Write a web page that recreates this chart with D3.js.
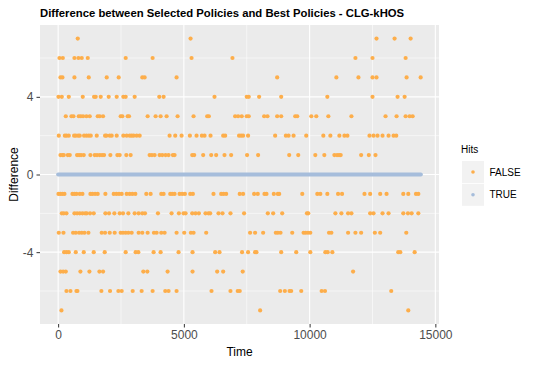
<!DOCTYPE html>
<html>
<head>
<meta charset="utf-8">
<script src="https://d3js.org/d3.v7.min.js"></script>
<style>
  body { margin: 0; background: #fff; }
  text { font-family: "Liberation Sans", Arial, sans-serif; }
</style>
</head>
<body>
<div id="container"></div>
<script>
// Chart size and panel margins
const width = 537;
const height = 366;
const marginTop = 25;
const marginRight = 98;
const marginBottom = 42;
const marginLeft = 40;

/*** DATA: times where Hits == FALSE, one array per Difference level ***/
const diffP7 = [780, 5266, 12660, 13379, 14017];
const diffP6 = [53, 185, 648, 807, 939, 1177, 2686, 3757, 5305, 6932, 11822, 12501, 13818];
const diffP5 = [93, 172, 648, 1217, 1932, 2408, 3347, 3440, 4710, 8710, 11064, 11942, 12501, 12660, 13857, 14416];
const diffP4 = [13, 146, 423, 979, 1429, 1495, 1693, 2011, 2329, 2593, 2686, 3043, 4022, 4194, 6218, 7500, 7580, 7992, 8870, 10705, 12501, 13498, 13778];
const diffP3 = [304, 529, 609, 820, 900, 992, 1125, 1257, 1574, 1654, 1786, 2487, 2553, 2765, 2818, 3559, 3876, 4075, 4313, 4750, 5385, 5927, 5993, 7038, 7157, 7301, 7500, 7580, 8192, 8325, 8710, 8870, 9428, 9508, 10067, 10266, 10745, 11663, 13019, 13458, 13818, 13977, 14097];
const diffP2 = [26, 265, 331, 423, 635, 701, 794, 860, 1032, 1125, 1217, 1297, 1535, 1866, 1919, 2051, 2130, 2329, 2593, 2726, 2845, 2924, 3003, 3123, 3242, 4432, 4657, 4909, 5239, 5504, 5716, 5822, 6060, 6563, 6642, 7194, 7274, 7354, 7553, 8630, 9056, 9163, 9362, 9867, 10546, 10825, 11184, 11384, 11503, 12381, 12541, 12700, 12900, 13139, 13339, 13445];
const diffP1 = [93, 172, 225, 384, 463, 754, 834, 913, 1019, 1283, 1455, 1548, 1654, 1747, 1826, 2077, 2355, 2448, 2712, 2884, 3638, 3731, 3837, 4035, 4141, 4273, 4392, 4564, 4630, 5332, 5411, 5768, 6086, 6284, 6615, 6880, 7513, 7952, 9189, 9548, 10226, 10586, 10985, 11091, 11171, 11237, 12049, 12355, 12620];
const diffM1 = [13, 93, 172, 251, 569, 648, 728, 860, 966, 1283, 1363, 1469, 1574, 1879, 2210, 2316, 2421, 2527, 2726, 2845, 2951, 3070, 3506, 3678, 4101, 4194, 4458, 4538, 4630, 4829, 4935, 5041, 5253, 5358, 6178, 6483, 6576, 6681, 7221, 7354, 7793, 7939, 8205, 8285, 8577, 8737, 8790, 9708, 10306, 10426, 10705, 11131, 11290, 12182, 12408, 12807, 13060, 13725, 13924, 14230, 14323];
const diffM2 = [146, 225, 331, 648, 754, 860, 966, 1072, 1138, 1270, 1416, 1879, 2024, 2236, 2448, 2580, 2792, 3043, 3202, 3347, 3453, 3969, 4511, 4802, 4988, 5068, 5332, 5464, 5597, 5861, 5980, 6046, 6377, 6536, 6853, 7394, 8338, 8551, 8910, 9894, 9947, 11025, 11264, 11530, 11663, 12408, 12541, 12900, 13139, 13725, 13911, 14057, 14323];
const diffM3 = [26, 212, 595, 701, 834, 939, 1045, 1204, 1733, 1866, 2051, 2249, 2487, 2580, 2686, 2792, 2924, 3202, 3347, 3559, 3810, 3916, 4101, 4234, 4710, 5014, 5279, 5385, 5888, 7633, 7832, 8152, 8657, 8737, 8843, 9309, 9761, 9841, 9934, 10027, 10772, 10865, 11530, 11822, 12049, 12594, 12807, 13844];
const diffM4 = [238, 331, 423, 701, 1019, 1416, 1852, 2686, 3083, 3189, 3797, 4075, 4789, 5345, 6245, 6417, 7314, 7553, 7832, 7886, 8870, 9468, 10027, 10626, 10719, 10905, 13525, 13605, 14177];
const diffM5 = [93, 198, 304, 886, 1244, 1641, 1786, 3387, 3546, 4353, 5345, 6324, 6562, 7340, 11729];
const diffM6 = [331, 490, 728, 767, 1720, 2064, 2395, 2527, 2964, 3321, 3757, 4260, 4392, 4710, 6099, 6853, 7141, 7221, 8830, 9016, 9202, 9268, 9668, 10479, 10612, 13246];
const diffM7 = [132, 8032, 13924];

// Hits == TRUE happen at Difference 0 over the whole run (dense enough to read as a band)
const trueRun = [0, 14424];

const hitLevels = ["FALSE", "TRUE"];
const xTicks = [0, 5000, 10000, 15000];
const xMinor = [2500, 7500, 12500];
const yTicks = [-4, 0, 4];
const yMinor = [-6, -2, 2, 6];

// build the FALSE point table from the arrays
const levels = [[7, diffP7], [6, diffP6], [5, diffP5], [4, diffP4], [3, diffP3], [2, diffP2], [1, diffP1],
                [-1, diffM1], [-2, diffM2], [-3, diffM3], [-4, diffM4], [-5, diffM5], [-6, diffM6], [-7, diffM7]];
const falsePts = [];
levels.forEach(([diff, times]) => times.forEach(t => falsePts.push({time: t, diff: diff})));

/*** SCALES ***/
const xPad = (trueRun[1] - trueRun[0]) * 0.05;
const x = d3.scaleLinear()
    .domain([trueRun[0] - xPad, trueRun[1] + xPad])
    .range([marginLeft, width - marginRight]);

const y = d3.scaleLinear()
    .domain([-7 - 0.7, 7 + 0.7])
    .range([height - marginBottom, marginTop]);

const color = d3.scaleOrdinal()
    .domain(hitLevels)
    .range(["#fdae4b", "#a6bddb"]);

const svg = d3.create("svg")
    .attr("width", width)
    .attr("height", height);

/*** PANEL + GRID ***/
const pw = width - marginRight - marginLeft;
const ph = height - marginBottom - marginTop;
svg.append("rect")
    .attr("x", marginLeft).attr("y", marginTop)
    .attr("width", pw).attr("height", ph)
    .attr("fill", "#ebebeb");

const grid = svg.append("g").attr("stroke", "#fff");
grid.selectAll(".xmin").data(xMinor).join("line")
    .attr("x1", d => x(d)).attr("x2", d => x(d))
    .attr("y1", marginTop).attr("y2", marginTop + ph)
    .attr("stroke-width", 0.55);
grid.selectAll(".ymin").data(yMinor).join("line")
    .attr("x1", marginLeft).attr("x2", marginLeft + pw)
    .attr("y1", d => y(d)).attr("y2", d => y(d))
    .attr("stroke-width", 0.55);
grid.selectAll(".xmaj").data(xTicks).join("line")
    .attr("x1", d => x(d)).attr("x2", d => x(d))
    .attr("y1", marginTop).attr("y2", marginTop + ph)
    .attr("stroke-width", 1.1);
grid.selectAll(".ymaj").data(yTicks).join("line")
    .attr("x1", marginLeft).attr("x2", marginLeft + pw)
    .attr("y1", d => y(d)).attr("y2", d => y(d))
    .attr("stroke-width", 1.1);

/*** AXES ***/
const xAxis = svg.append("g")
    .attr("transform", `translate(0,${height - marginBottom})`)
    .call(d3.axisBottom(x).tickValues(xTicks).tickSize(3.5).tickPadding(3).tickFormat(d3.format("d")));
const yAxis = svg.append("g")
    .attr("transform", `translate(${marginLeft},0)`)
    .call(d3.axisLeft(y).tickValues(yTicks).tickSize(3.5).tickPadding(3).tickFormat(d3.format("d")));
[xAxis, yAxis].forEach(a => {
  a.select(".domain").remove();
  a.selectAll(".tick line").attr("stroke", "#333");
  a.selectAll(".tick text")
    .attr("fill", "#4d4d4d")
    .attr("font-size", 12)
    .attr("font-family", "Liberation Sans, Arial, sans-serif");
});
yAxis.selectAll(".tick text").text(d => d < 0 ? "-" + Math.abs(d) : d);

/*** POINTS ***/
svg.append("line")
    .attr("x1", x(trueRun[0])).attr("x2", x(trueRun[1]))
    .attr("y1", y(0)).attr("y2", y(0))
    .attr("stroke", color("TRUE"))
    .attr("stroke-width", 4)
    .attr("stroke-linecap", "round");

svg.append("g")
  .selectAll("circle")
  .data(falsePts)
  .join("circle")
    .attr("cx", d => x(d.time))
    .attr("cy", d => y(d.diff))
    .attr("r", 2.1)
    .attr("fill", color("FALSE"));

/*** TITLES ***/
svg.append("text")
    .attr("x", marginLeft)
    .attr("y", 17)
    .attr("font-size", 11.3)
    .attr("font-weight", "bold")
    .text("Difference between Selected Policies and Best Policies - CLG-kHOS");

svg.append("text")
    .attr("text-anchor", "middle")
    .attr("x", marginLeft + pw / 2)
    .attr("y", 356)
    .attr("font-size", 12)
    .text("Time");

svg.append("text")
    .attr("text-anchor", "middle")
    .attr("transform", `translate(18,${marginTop + ph / 2}) rotate(-90)`)
    .attr("font-size", 12)
    .text("Difference");

/*** LEGEND ***/
const legend = svg.append("g").attr("transform", "translate(461,0)");
legend.append("text")
    .attr("x", 0).attr("y", 153)
    .attr("font-size", 10)
    .text("Hits");
const keys = legend.selectAll(".key")
  .data(hitLevels)
  .join("g")
    .attr("transform", (d, i) => `translate(1,${161 + i * 22.8})`);
keys.append("rect")
    .attr("width", 22).attr("height", 22)
    .attr("fill", "#f2f2f2");
keys.append("circle")
    .attr("cx", 11).attr("cy", 11).attr("r", 1.8)
    .attr("fill", d => color(d));
keys.append("text")
    .attr("x", 27.5).attr("y", 14.5)
    .attr("font-size", 10)
    .text(d => d);

document.getElementById("container").append(svg.node());
</script>
</body>
</html>
